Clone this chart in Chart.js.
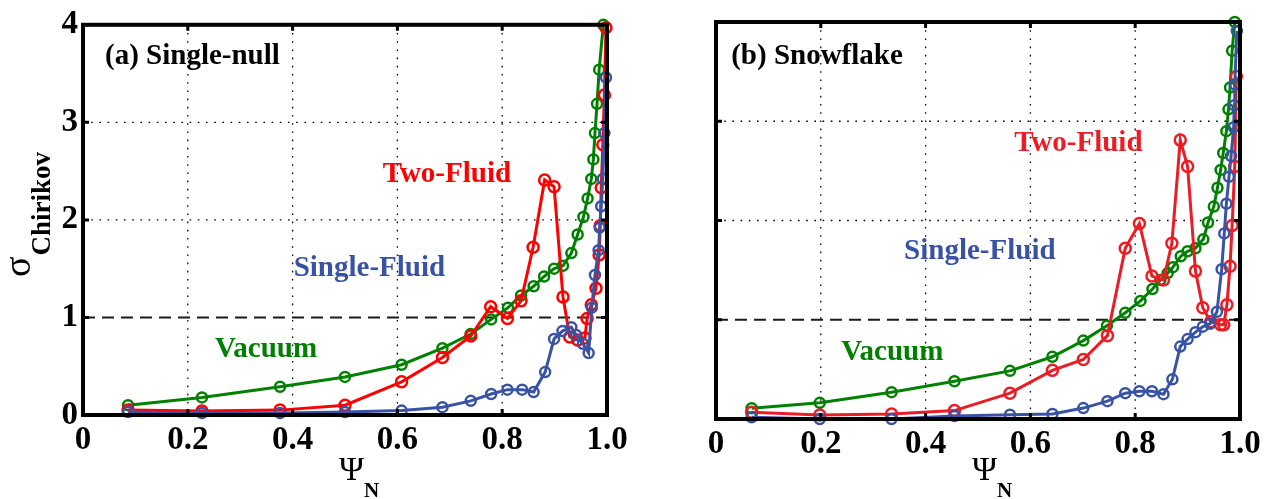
<!DOCTYPE html>
<html lang="en">
<head>
<meta charset="UTF-8">
<title>Chirikov parameter vs psi_N</title>
<script src="https://cdn.jsdelivr.net/npm/chart.js"></script>
<style>
  html, body { margin: 0; padding: 0; background: #fff; overflow: hidden; }
  canvas { position: absolute; top: 0; }
</style>
</head>
<body>
<canvas id="chartA" width="635" height="499" style="left:0"></canvas>
<canvas id="chartB" width="635" height="499" style="left:635px"></canvas>
<script>
// ---- data ----
// (a) single-null
const psiA_vac = [0.086, 0.227, 0.376, 0.50, 0.608, 0.686, 0.74, 0.779, 0.811, 0.836, 0.86, 0.88, 0.899, 0.916, 0.932, 0.944, 0.955, 0.963, 0.97, 0.974, 0.977, 0.981, 0.985, 0.993];
const sigA_vac = [0.10, 0.18, 0.29, 0.39, 0.515, 0.685, 0.83, 0.98, 1.10, 1.225, 1.32, 1.42, 1.50, 1.53, 1.66, 1.85, 2.03, 2.22, 2.42, 2.62, 2.89, 3.19, 3.54, 4.0];
const psiA_two = [0.086, 0.227, 0.376, 0.50, 0.608, 0.686, 0.74, 0.778, 0.81, 0.836, 0.859, 0.881, 0.899, 0.916, 0.929, 0.944, 0.958, 0.962, 0.97, 0.979, 0.985, 0.987, 0.989, 0.992, 0.995, 0.998];
const sigA_two = [0.05, 0.04, 0.05, 0.10, 0.34, 0.59, 0.81, 1.11, 0.99, 1.17, 1.72, 2.41, 2.34, 1.21, 0.80, 0.77, 0.79, 0.99, 1.13, 1.30, 1.64, 1.94, 2.33, 2.77, 3.28, 3.97];
const psiA_one = [0.086, 0.227, 0.376, 0.50, 0.608, 0.686, 0.74, 0.779, 0.81, 0.838, 0.86, 0.882, 0.899, 0.915, 0.932, 0.941, 0.954, 0.965, 0.971, 0.977, 0.984, 0.986, 0.989, 0.992, 0.995, 0.998];
const sigA_one = [0.03, 0.02, 0.02, 0.03, 0.045, 0.08, 0.145, 0.215, 0.26, 0.26, 0.235, 0.44, 0.78, 0.86, 0.90, 0.82, 0.73, 0.635, 1.10, 1.435, 1.69, 1.92, 2.14, 2.42, 2.89, 3.46];

// (b) snowflake
const psiB_vac = [0.068, 0.198, 0.335, 0.455, 0.561, 0.642, 0.701, 0.746, 0.781, 0.81, 0.833, 0.848, 0.862, 0.872, 0.887, 0.90, 0.915, 0.93, 0.939, 0.95, 0.957, 0.963, 0.968, 0.974, 0.978, 0.981, 0.985, 0.99];
const sigB_vac = [0.108, 0.163, 0.27, 0.38, 0.485, 0.627, 0.79, 0.94, 1.07, 1.19, 1.31, 1.40, 1.47, 1.53, 1.64, 1.69, 1.72, 1.81, 1.98, 2.14, 2.33, 2.51, 2.68, 2.90, 3.12, 3.34, 3.71, 4.0];
const psiB_two = [0.068, 0.198, 0.335, 0.455, 0.561, 0.642, 0.701, 0.747, 0.781, 0.808, 0.832, 0.854, 0.87, 0.886, 0.90, 0.915, 0.929, 0.944, 0.963, 0.969, 0.975, 0.981, 0.985, 0.99, 0.993];
const sigB_two = [0.068, 0.04, 0.05, 0.085, 0.26, 0.49, 0.60, 0.84, 1.72, 1.97, 1.44, 1.40, 1.77, 2.81, 2.545, 1.49, 1.12, 0.98, 0.95, 0.95, 1.15, 1.54, 1.95, 2.545, 3.45];
const psiB_one = [0.068, 0.198, 0.335, 0.455, 0.561, 0.642, 0.701, 0.747, 0.781, 0.808, 0.832, 0.854, 0.871, 0.886, 0.90, 0.915, 0.929, 0.943, 0.956, 0.965, 0.97, 0.974, 0.979, 0.983, 0.988, 0.989, 0.99, 0.994];
const sigB_one = [0.017, 0.0, 0.0, 0.03, 0.044, 0.05, 0.11, 0.18, 0.26, 0.28, 0.28, 0.25, 0.40, 0.73, 0.805, 0.875, 0.93, 0.96, 1.08, 1.51, 1.87, 2.17, 2.44, 2.65, 2.94, 3.16, 3.37, 3.91];

// axes
const psiTicks = [0, 0.2, 0.4, 0.6, 0.8, 1.0];
const sigmaTicks = [0, 1, 2, 3, 4];
const psiGrid = [0.2, 0.4, 0.6, 0.8];
const sigmaGrid = [2, 3];
const threshold = 1;

const SERIF = "'Liberation Serif', 'Times New Roman', serif";

function pts(xs, ys) {
    return xs.map((v, i) => ({ x: v, y: ys[i] }));
}

function series(data, color, r) {
    return {
        data: data,
        borderColor: color,
        borderWidth: 3,
        pointRadius: r,
        pointBorderWidth: 2.5,
        pointBorderColor: color,
        pointBackgroundColor: 'rgba(0,0,0,0)',
        pointStyle: 'circle',
        tension: 0,
        clip: false
    };
}

// grid, threshold line, inward ticks, box, notes and axis labels
const frame = {
    id: 'frame',
    beforeDatasetsDraw(chart) {
        const { ctx, chartArea: a, scales: { x, y } } = chart;
        ctx.save();
        ctx.strokeStyle = '#000';
        ctx.lineWidth = 1.3;
        ctx.setLineDash([1.6, 6.6]);
        ctx.beginPath();
        psiGrid.forEach(v => {
            const p = x.getPixelForValue(v);
            ctx.moveTo(p, a.top); ctx.lineTo(p, a.bottom);
        });
        sigmaGrid.forEach(v => {
            const p = y.getPixelForValue(v);
            ctx.moveTo(a.left, p); ctx.lineTo(a.right, p);
        });
        ctx.stroke();
        ctx.setLineDash([12, 7]);
        ctx.lineWidth = 2;
        ctx.strokeStyle = '#1a1a1a';
        const t = y.getPixelForValue(threshold);
        ctx.beginPath();
        ctx.moveTo(a.left, t); ctx.lineTo(a.right, t);
        ctx.stroke();
        ctx.restore();
    },
    afterDatasetsDraw(chart, args, o) {
        const { ctx, chartArea: a, scales: { x, y } } = chart;
        ctx.save();
        ctx.strokeStyle = '#000';
        ctx.lineWidth = 3;
        ctx.beginPath();
        psiTicks.forEach(v => {
            const p = x.getPixelForValue(v);
            ctx.moveTo(p, a.bottom); ctx.lineTo(p, a.bottom - 6);
            ctx.moveTo(p, a.top); ctx.lineTo(p, a.top + 6);
        });
        sigmaTicks.forEach(v => {
            const p = y.getPixelForValue(v);
            ctx.moveTo(a.left, p); ctx.lineTo(a.left + 6, p);
            ctx.moveTo(a.right, p); ctx.lineTo(a.right - 6, p);
        });
        ctx.stroke();
        ctx.lineWidth = 4;
        ctx.strokeRect(a.left, a.top, a.width, a.height);

        // in-plot notes
        ctx.font = 'bold 29px ' + SERIF;
        ctx.textBaseline = 'middle';
        ctx.textAlign = 'left';
        o.notes.forEach(n => {
            ctx.fillStyle = n.color;
            ctx.fillText(n.text, x.getPixelForValue(n.psi), y.getPixelForValue(n.sigma));
        });

        // x label: Psi_N
        ctx.fillStyle = '#000';
        ctx.textBaseline = 'alphabetic';
        const cx = (a.left + a.right) / 2 - 6;
        ctx.font = '34px ' + SERIF;
        ctx.fillText('\u03A8', cx, 480);
        const w = ctx.measureText('\u03A8').width;
        ctx.font = 'bold 21px ' + SERIF;
        ctx.fillText('N', cx + w, 497);

        // y label: sigma_Chirikov
        if (o.yLabel) {
            ctx.translate(30, 277);
            ctx.rotate(-Math.PI / 2);
            ctx.font = '38px ' + SERIF;
            ctx.fillText('\u03C3', 0, 0);
            const sw = ctx.measureText('\u03C3').width;
            ctx.font = 'bold 27px ' + SERIF;
            ctx.fillText('Chirikov', sw + 1, 20);
        }
        ctx.restore();
    }
};

function makePanel(id, box, sets, notes, yLabel) {
    new Chart(document.getElementById(id), {
        type: 'line',
        data: { datasets: sets },
        options: {
            responsive: false,
            animation: false,
            events: [],
            layout: { padding: { left: 0, right: box.right, top: box.top, bottom: 0 } },
            scales: {
                x: {
                    type: 'linear',
                    min: 0,
                    max: 1,
                    afterFit: s => { s.height = box.xh; },
                    afterBuildTicks: s => { s.ticks = psiTicks.map(v => ({ value: v })); },
                    grid: { display: false, drawTicks: false },
                    border: { display: false },
                    ticks: {
                        autoSkip: false,
                        maxRotation: 0,
                        padding: 6,
                        color: '#000',
                        font: { family: SERIF, size: 33, weight: 'bold' },
                        callback: v => (v === 0 ? '0' : v.toFixed(1))
                    }
                },
                y: {
                    type: 'linear',
                    min: 0,
                    max: 4,
                    afterFit: s => { s.width = box.yw; },
                    afterBuildTicks: s => { s.ticks = sigmaTicks.map(v => ({ value: v })); },
                    grid: { display: false, drawTicks: false },
                    border: { display: false },
                    ticks: {
                        display: yLabel,
                        padding: 5,
                        color: '#000',
                        font: { family: SERIF, size: 33, weight: 'bold' },
                        callback: v => String(v)
                    }
                }
            },
            plugins: {
                legend: { display: false },
                tooltip: { enabled: false },
                frame: { notes: notes, yLabel: yLabel }
            }
        },
        plugins: [frame]
    });
}

const BLUE = '#3953a4', GREEN = '#008000';

makePanel('chartA', { right: 28, top: 20, xh: 84, yw: 83 }, [
    series(pts(psiA_one, sigA_one), BLUE, 5),
    series(pts(psiA_two, sigA_two), '#ff0000', 5.5),
    series(pts(psiA_vac, sigA_vac), GREEN, 5)
], [
    { text: '(a) Single-null', psi: 0.042, sigma: 3.68, color: '#000' },
    { text: 'Two-Fluid', psi: 0.572, sigma: 2.47, color: '#ff0000' },
    { text: 'Single-Fluid', psi: 0.402, sigma: 1.50, color: BLUE },
    { text: 'Vacuum', psi: 0.252, sigma: 0.67, color: GREEN }
], true);

makePanel('chartB', { right: 30, top: 22, xh: 80, yw: 81 }, [
    series(pts(psiB_one, sigB_one), BLUE, 5),
    series(pts(psiB_two, sigB_two), '#ec1c24', 5.5),
    series(pts(psiB_vac, sigB_vac), GREEN, 5)
], [
    { text: '(b) Snowflake', psi: 0.029, sigma: 3.65, color: '#000' },
    { text: 'Two-Fluid', psi: 0.569, sigma: 2.78, color: '#ec1c24' },
    { text: 'Single-Fluid', psi: 0.359, sigma: 1.69, color: BLUE },
    { text: 'Vacuum', psi: 0.239, sigma: 0.67, color: GREEN }
], false);
</script>
</body>
</html>
